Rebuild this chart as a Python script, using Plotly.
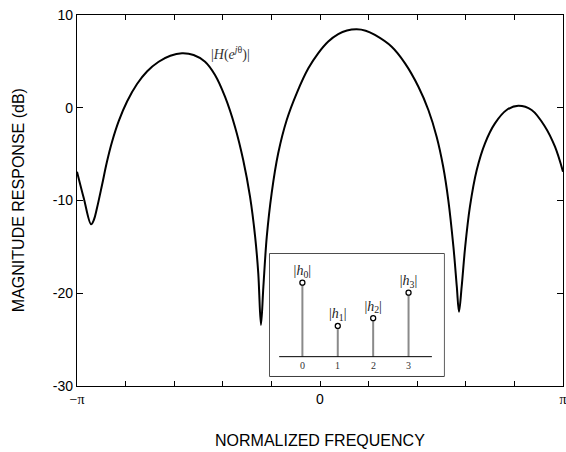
import math
import plotly.graph_objects as go

# Magnitude response: frequency in units of pi, level in dB
theta_over_pi = [-1.000, -0.972, -0.942, -0.930, -0.918, -0.897, -0.877, -0.856, -0.828,
                 -0.794, -0.753, -0.712, -0.664, -0.616, -0.568, -0.520, -0.473, -0.432,
                 -0.391, -0.350, -0.316, -0.288, -0.267, -0.254, -0.243, -0.233, -0.219,
                 -0.199, -0.172, -0.137, -0.096, -0.048, -0.007, 0.034, 0.075, 0.111,
                 0.151, 0.188, 0.226, 0.295, 0.350, 0.405, 0.446, 0.480, 0.507, 0.528,
                 0.549, 0.563, 0.572, 0.583, 0.597, 0.617, 0.645, 0.679, 0.720, 0.768,
                 0.816, 0.871, 0.926, 0.967, 1.000]
mag_db = [-6.89, -9.76, -12.57, -12.05, -10.84, -8.33, -5.85, -3.69, -1.42,
          0.67, 2.56, 3.91, 4.96, 5.61, 5.87, 5.69, 4.96, 3.53,
          1.19, -2.04, -5.63, -9.59, -13.90, -17.85, -23.42, -19.29, -13.90,
          -9.22, -4.91, -1.32, 1.56, 4.25, 5.90, 7.15, 7.95, 8.33,
          8.46, 8.31, 7.85, 6.58, 4.79, 2.27, -0.24, -3.12, -6.36, -9.95,
          -14.98, -19.29, -21.99, -19.29, -15.12, -10.67, -6.71, -3.83, -1.68, -0.24,
          0.22, -0.24, -2.04, -4.20, -6.89]

# Inset stem plot: tap index and magnitude
tap_index = [0, 1, 2, 3]
tap_mag = [1.0, 0.415, 0.52, 0.865]
tap_labels = ["|<i>h</i><sub>0</sub>|", "|<i>h</i><sub>1</sub>|",
              "|<i>h</i><sub>2</sub>|", "|<i>h</i><sub>3</sub>|"]

x_major_fracs = [-1, 0, 1]
x_major_text = ["<span style='font-family:Liberation Serif'>−π</span>", "0",
                "<span style='font-family:Liberation Serif'>π</span>"]
x_minor_fracs = [-0.8, -0.6, -0.4, -0.2, 0.2, 0.4, 0.6, 0.8]
y_tick_vals = [-30, -20, -10, 0, 10]
y_tick_text = ["-30", "-20", "-10", "0", "10"]

SERIF = "Liberation Serif, DejaVu Serif, serif"
SANS = "Liberation Sans, Arial, sans-serif"

theta = [t * math.pi for t in theta_over_pi]

fig = go.Figure()
fig.add_trace(go.Scatter(x=theta, y=mag_db, mode="lines",
                         line=dict(color="black", width=2, shape="spline", smoothing=1.0),
                         showlegend=False, hoverinfo="skip"))

# stems
stem_x, stem_y = [], []
for i, h in zip(tap_index, tap_mag):
    stem_x += [i, i, None]
    stem_y += [0, h, None]
fig.add_trace(go.Scatter(x=stem_x, y=stem_y, mode="lines", xaxis="x2", yaxis="y2",
                         line=dict(color="#8a8a8a", width=2), showlegend=False,
                         hoverinfo="skip"))
fig.add_trace(go.Scatter(x=tap_index, y=tap_mag, mode="markers+text", xaxis="x2", yaxis="y2",
                         marker=dict(symbol="circle", size=5, color="white",
                                     line=dict(color="black", width=1.3)),
                         text=tap_labels, textposition="top center",
                         textfont=dict(family=SERIF, size=14, color="#222"),
                         showlegend=False, hoverinfo="skip"))

# inset box (paper coordinates)
bx0, bx1, by0, by1 = 0.397, 0.755, 0.027, 0.356
fig.add_shape(type="rect", xref="paper", yref="paper", x0=bx0, x1=bx1, y0=by0, y1=by1,
              line=dict(color="black", width=1.3), fillcolor="white", layer="below")
fig.add_shape(type="line", xref="x2", yref="y2", x0=-0.656, x1=3.66, y0=0, y1=0,
              line=dict(color="black", width=1))
for i in tap_index:
    fig.add_annotation(x=i, y=0, xref="x2", yref="y2", text=str(i), showarrow=False,
                       yanchor="top", yshift=-1, font=dict(family=SERIF, size=10, color="#333"))

fig.add_annotation(x=-0.370 * math.pi, y=5.9, xref="x", yref="y", xanchor="center",
                   text="|<i>H</i>(<i>e</i><sup><i>j</i>θ</sup>)|", showarrow=False,
                   font=dict(family=SERIF, size=14, color="#333"))

fig.add_annotation(x=-0.1214, y=0.501, xref="paper", yref="paper", xanchor="center",
                   yanchor="middle", text="MAGNITUDE RESPONSE (dB)", textangle=-90,
                   showarrow=False, font=dict(family=SANS, size=16, color="black"))
fig.add_annotation(x=0.5, y=-0.148, xref="paper", yref="paper", xanchor="center",
                   yanchor="middle", text="NORMALIZED FREQUENCY", showarrow=False,
                   font=dict(family=SANS, size=16, color="black"))

fig.update_layout(
    width=566, height=452,
    margin=dict(l=77, r=3, t=15, b=66),
    plot_bgcolor="white", paper_bgcolor="white",
    xaxis=dict(range=[-math.pi, math.pi], tickmode="array",
               tickvals=[t * math.pi for t in x_major_fracs], ticktext=x_major_text,
               ticks="inside", ticklen=5, tickwidth=1, tickcolor="black",
               minor=dict(tickmode="array", tickvals=[t * math.pi for t in x_minor_fracs],
                          ticks="inside", ticklen=5, tickwidth=1, tickcolor="black",
                          showgrid=False),
               showline=True, linecolor="black", linewidth=1.2,
               mirror="ticks", showgrid=False, zeroline=False, ticklabeloverflow="allow",
               tickfont=dict(family=SANS, size=14, color="black"), automargin=False),
    yaxis=dict(range=[-30, 10], tickvals=y_tick_vals, ticktext=y_tick_text,
               ticks="inside", ticklen=6, tickwidth=1, tickcolor="black",
               showline=True, linecolor="black", linewidth=1.2, mirror="ticks",
               showgrid=False, zeroline=False, ticklabeloverflow="allow",
               tickfont=dict(family=SANS, size=14, color="black"), automargin=False),
    xaxis2=dict(domain=[bx0, bx1], range=[-0.917, 4.0], anchor="y2",
                visible=False, fixedrange=True),
    yaxis2=dict(domain=[by0, by1], range=[-0.261, 1.388], anchor="x2",
                visible=False, fixedrange=True),
)

fig.write_html("out.html")
